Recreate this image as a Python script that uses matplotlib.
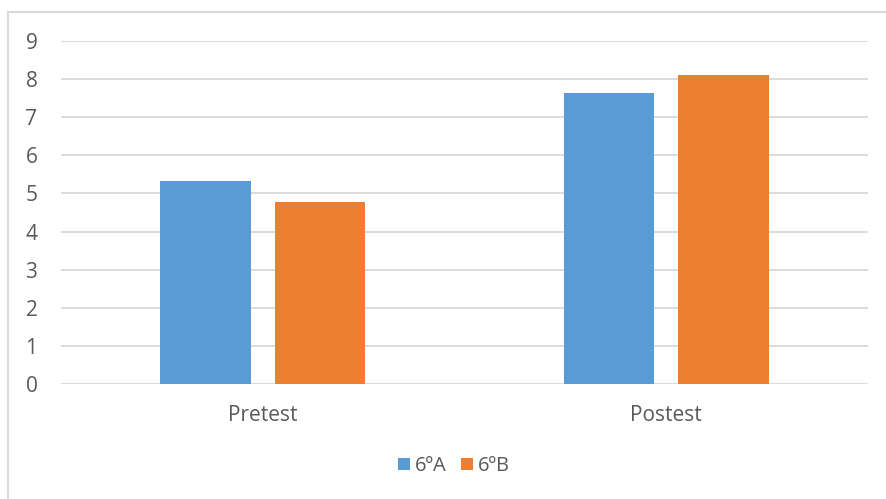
import matplotlib.pyplot as plt
from matplotlib.patches import Rectangle
import numpy as np

categories = ['Pretest', 'Postest']
grupo_a = [5.32, 7.64]
grupo_b = [4.77, 8.11]
series_names = ['6ºA', '6ºB']

BLUE = '#5b9bd5'
ORANGE = '#ed7d31'
TEXT = '#595959'
GRID = '#d9d9d9'

plt.rcParams['font.family'] = ['Open Sans', 'DejaVu Sans']

fig = plt.figure(figsize=(8.87, 4.99), dpi=100)
ax = fig.add_axes([0.0688, 0.2305, 0.9098, 0.6873])

# marco exterior del gráfico
fig.patches.append(Rectangle((8 / 887, -0.1), 1.1, (499 - 12) / 499 + 0.1,
                             transform=fig.transFigure, fill=False,
                             edgecolor=GRID, linewidth=1.5))

x = np.arange(len(categories))
w = 0.225
off = 0.142
ax.bar(x - off, grupo_a, w, color=BLUE, label=series_names[0], zorder=3)
ax.bar(x + off, grupo_b, w, color=ORANGE, label=series_names[1], zorder=3)

ax.set_xlim(-0.5, 1.5)
ax.set_ylim(0, 9)
ax.set_yticks(range(0, 10))
ax.set_xticks(x)
ax.set_xticklabels(categories)
ax.grid(axis='y', color=GRID, linewidth=1.3, zorder=0)
for s in ax.spines.values():
    s.set_visible(False)
ax.tick_params(length=0, colors=TEXT, labelsize=15)
ax.tick_params(axis='y', pad=17)
ax.tick_params(axis='x', pad=15)

leg = ax.legend(loc='center', ncol=2, frameon=False, fontsize=14.5,
                handlelength=0.6, handleheight=0.6, handletextpad=0.25,
                columnspacing=0.7)
leg.set_bbox_to_anchor((0.512, (499 - 466) / 499), transform=fig.transFigure)
for t in leg.get_texts():
    t.set_color(TEXT)

fig.savefig('out.png', dpi=100)
